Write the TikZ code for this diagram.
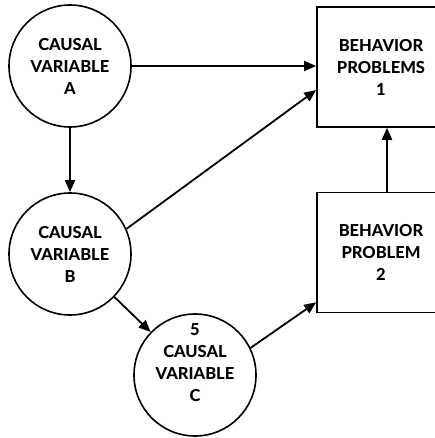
\documentclass[tikz,border=0pt]{standalone}
\usepackage{fontspec}
\setmainfont{Lato}[BoldFont={Lato Heavy}]
\usepackage{tikz}
\usetikzlibrary{arrows.meta,calc,positioning}

\tikzset{
	boxtext/.style={align=center,font=\bfseries\fontsize{16.5}{22}\selectfont},
	causal/.style={draw,circle,line width=1.6pt,minimum size=122pt,inner sep=0pt,boxtext},
	behav/.style={draw,rectangle,line width=1.6pt,minimum width=128pt,minimum height=120pt,inner sep=0pt,boxtext},
	link/.style={line width=1.8pt,-{Triangle[length=12pt,width=10pt]}}
}

\begin{document}
\begin{tikzpicture}[x=1pt,y=1pt]
	\useasboundingbox (0,0) rectangle (434,-438);

	\coordinate (posA) at (70,-66);
	\coordinate (posB) at (70,-254);
	\coordinate (posC) at (195,-375);

	\node[causal] (A) at (posA) {CAUSAL\\VARIABLE\\A};
	\node[causal] (B) at (posB) {CAUSAL\\VARIABLE\\B};
	\node[causal,label={[boxtext,yshift=12pt]center:{5\\CAUSAL\\VARIABLE\\C}}] (C) at (posC) {};

	\node[behav] (P1) at (381,-67) {BEHAVIOR\\PROBLEMS\\1};
	\node[behav] (P2) at (381,-252.5) {BEHAVIOR\\PROBLEM\\2};

	\draw[link] (A.east) -- (A.east -| P1.west);
	\draw[link] (A) -- (B);
	\draw[link] (B.24) -- ([yshift=-23pt]P1.west);
	\draw[link] (B) -- (C);
	\draw[link] (C.26) -- ([yshift=11pt]P2.south west);
	\draw[link] ([xshift=6pt]P2.north) -- ([xshift=6pt]P1.south);
\end{tikzpicture}
\end{document}
